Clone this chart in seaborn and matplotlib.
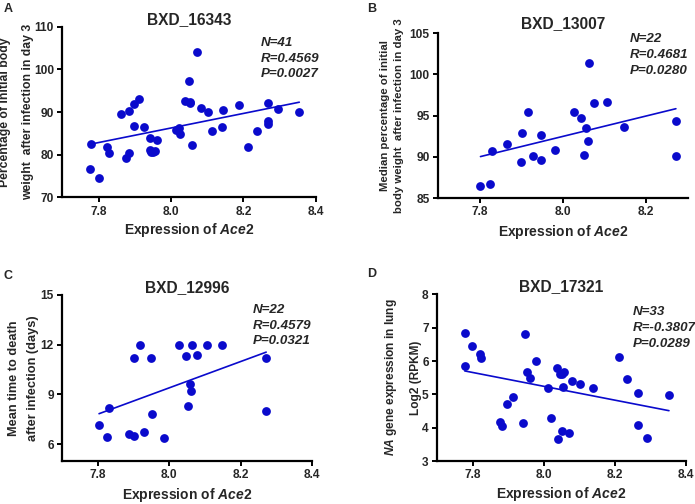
import numpy as np
import matplotlib
matplotlib.use("Agg")
import matplotlib.pyplot as plt
import seaborn as sns

# ---------------- data ----------------
a_x = [7.779, 7.777, 7.800, 7.823, 7.829, 7.863, 7.885, 7.898, 7.913, 7.899,
       7.925, 7.883, 7.877, 7.943, 7.961, 7.942, 7.949, 7.957, 8.013, 8.022,
       8.024, 8.039, 8.053, 8.049, 8.073, 8.057, 8.082, 8.102, 8.113, 8.144,
       8.141, 8.188, 8.212, 8.238, 8.268, 8.294, 8.268, 8.268, 8.354, 7.945,
       8.052]
a_y = [82.5, 76.6, 74.5, 81.8, 80.4, 89.5, 90.3, 91.9, 93.1, 86.8,
       86.5, 80.4, 79.3, 83.8, 83.4, 81.0, 80.6, 80.9, 85.8, 86.3,
       84.8, 92.5, 92.2, 97.3, 104.0, 82.2, 91.0, 90.1, 85.5, 90.5,
       86.5, 91.6, 81.8, 85.5, 92.0, 90.7, 88.0, 87.1, 90.1, 80.7,
       92.3]

b_x = [7.802, 7.824, 7.830, 7.865, 7.902, 7.916, 7.927, 7.899, 7.948, 7.947,
       7.982, 8.026, 8.043, 8.055, 8.059, 8.051, 8.062, 8.075, 8.106, 8.146,
       8.271, 8.271]
b_y = [86.5, 86.7, 90.7, 91.6, 92.9, 95.4, 90.1, 89.4, 92.7, 89.6,
       90.8, 95.4, 94.7, 93.5, 91.9, 90.2, 101.4, 96.5, 96.7, 93.6,
       94.4, 90.1]

c_x = [7.803, 7.826, 7.832, 7.888, 7.902, 7.918, 7.902, 7.930, 7.949, 7.951,
       7.984, 8.028, 8.046, 8.062, 8.078, 8.106, 8.148, 8.057, 8.061, 8.052,
       8.271, 8.271]
c_y = [7.17, 6.45, 8.19, 6.59, 6.50, 12.0, 11.21, 6.75, 11.21, 7.80,
       6.38, 12.0, 11.32, 12.0, 11.38, 12.0, 12.0, 9.61, 9.20, 8.32,
       11.18, 8.00]

d_x = [7.778, 7.780, 7.799, 7.822, 7.825, 7.876, 7.884, 7.897, 7.913, 7.946,
       7.943, 7.954, 7.960, 7.979, 8.013, 8.021, 8.037, 8.047, 8.058, 8.055,
       8.051, 8.039, 8.072, 8.080, 8.101, 8.139, 8.212, 8.235, 8.265, 8.265,
       8.291, 8.352, 8.050]
d_y = [6.83, 5.85, 6.45, 6.21, 6.08, 4.18, 4.05, 4.71, 4.91, 6.81,
       4.13, 5.68, 5.48, 6.01, 5.20, 4.28, 5.78, 5.60, 5.66, 5.23,
       3.91, 3.65, 3.83, 5.40, 5.31, 5.20, 6.13, 5.46, 5.03, 4.08,
       3.70, 4.97, 5.62]

titles = ["BXD_16343", "BXD_13007", "BXD_12996", "BXD_17321"]
stats = ["N=41\nR=0.4569\nP=0.0027",
         "N=22\nR=0.4681\nP=0.0280",
         "N=22\nR=0.4579\nP=0.0321",
         "N=33\nR=-0.3807\nP=0.0289"]
ylabels = ["Percentage of initial body\nweight  after infection in day 3",
           "Median percentage of initial\nbody weight  after infection in day 3",
           "Mean time to death\nafter infection (days)",
           "$\\mathit{NA}$ gene expression in lung\nLog2 (RPKM)"]
xlabel = "Expression of $\\mathit{Ace2}$"
letters = ["A", "B", "C", "D"]

# ---------------- style ----------------
sns.set_theme(style="ticks")
plt.rcParams["font.family"] = ["Liberation Sans", "DejaVu Sans"]
plt.rcParams["font.weight"] = "bold"
plt.rcParams["mathtext.fontset"] = "custom"
plt.rcParams["mathtext.it"] = "Liberation Sans:italic:bold"
plt.rcParams["mathtext.rm"] = "Liberation Sans:bold"
plt.rcParams["mathtext.bf"] = "Liberation Sans:bold"

blue = "#0a0acc"

fig = plt.figure(figsize=(6.95, 5.04), dpi=100)

# axes boxes (fig fraction), limits, ticks, label placement
panels = [
    dict(x=a_x, y=a_y, rect=[0.0896, 0.6085, 0.365, 0.3385],
         xlim=(7.7, 8.4), ylim=(70, 110), yt=[70, 80, 90, 100, 110],
         xt=[7.8, 8.0, 8.2, 8.4], ylx=-0.18, ylsize=8.8, ylsp=2.2,
         xly=-0.19, tpad=0, sx=0.783, sy=0.94, lx=4, ly=2.5),
    dict(x=b_x, y=b_y, rect=[0.6302, 0.6071, 0.3597, 0.3268],
         xlim=(7.7, 8.3), ylim=(85, 105), yt=[85, 90, 95, 100, 105],
         xt=[7.8, 8.0, 8.2], ylx=-0.184, ylsize=8.2, ylsp=1.6,
         xly=-0.205, tpad=3.5, sx=0.768, sy=1.0, lx=367, ly=2.5),
    dict(x=c_x, y=c_y, rect=[0.0896, 0.0861, 0.3597, 0.3286],
         xlim=(7.7, 8.4), ylim=(5, 15), yt=[6, 9, 12, 15],
         xt=[7.8, 8.0, 8.2, 8.4], ylx=-0.155, ylsize=9.2, ylsp=1.75,
         xly=-0.205, tpad=0, sx=0.764, sy=0.945, lx=4, ly=270),
    dict(x=d_x, y=d_y, rect=[0.6288, 0.0853, 0.3583, 0.3307],
         xlim=(7.7, 8.4), ylim=(3, 8), yt=[3, 4, 5, 6, 7, 8],
         xt=[7.8, 8.0, 8.2, 8.4], ylx=-0.139, ylsize=8.6, ylsp=2.2,
         xly=-0.2, tpad=0, sx=0.785, sy=0.928, lx=367, ly=268),
]

for i, p in enumerate(panels):
    ax = fig.add_axes(p["rect"])
    sns.regplot(x=np.array(p["x"]), y=np.array(p["y"]), ax=ax, ci=None,
                color=blue, truncate=True,
                scatter_kws=dict(s=40, linewidths=0, alpha=1),
                line_kws=dict(lw=1.2))
    ax.set_xlim(*p["xlim"])
    ax.set_ylim(*p["ylim"])
    ax.set_xticks(p["xt"])
    ax.set_xticklabels([f"{v:.1f}" for v in p["xt"]])
    ax.set_yticks(p["yt"])
    sns.despine(ax=ax)
    for s in ["left", "bottom"]:
        ax.spines[s].set_linewidth(1.6)
        ax.spines[s].set_color("black")
    ax.tick_params(width=1.4, length=3.5, labelsize=8.6, color="black",
                   pad=2.5)
    for t in ax.get_xticklabels() + ax.get_yticklabels():
        t.set_fontweight("bold")

    ax.set_title(titles[i], fontsize=11.2, fontweight="bold", pad=p["tpad"])
    ax.set_ylabel(ylabels[i], fontsize=p["ylsize"], fontweight="bold",
                  va="center", linespacing=p["ylsp"])
    ax.yaxis.set_label_coords(p["ylx"], 0.5)
    ax.set_xlabel(xlabel, fontsize=10, fontweight="bold", va="center")
    ax.xaxis.set_label_coords(0.5, p["xly"])

    ax.text(p["sx"], p["sy"], stats[i], transform=ax.transAxes,
            ha="left", va="top", fontsize=9.6, fontweight="bold",
            fontstyle="italic", linespacing=1.4)

    fig.text(p["lx"] / 695, 1 - p["ly"] / 504, letters[i], ha="left",
             va="top", fontsize=9, fontweight="bold")

fig.savefig("out.png", dpi=100)
